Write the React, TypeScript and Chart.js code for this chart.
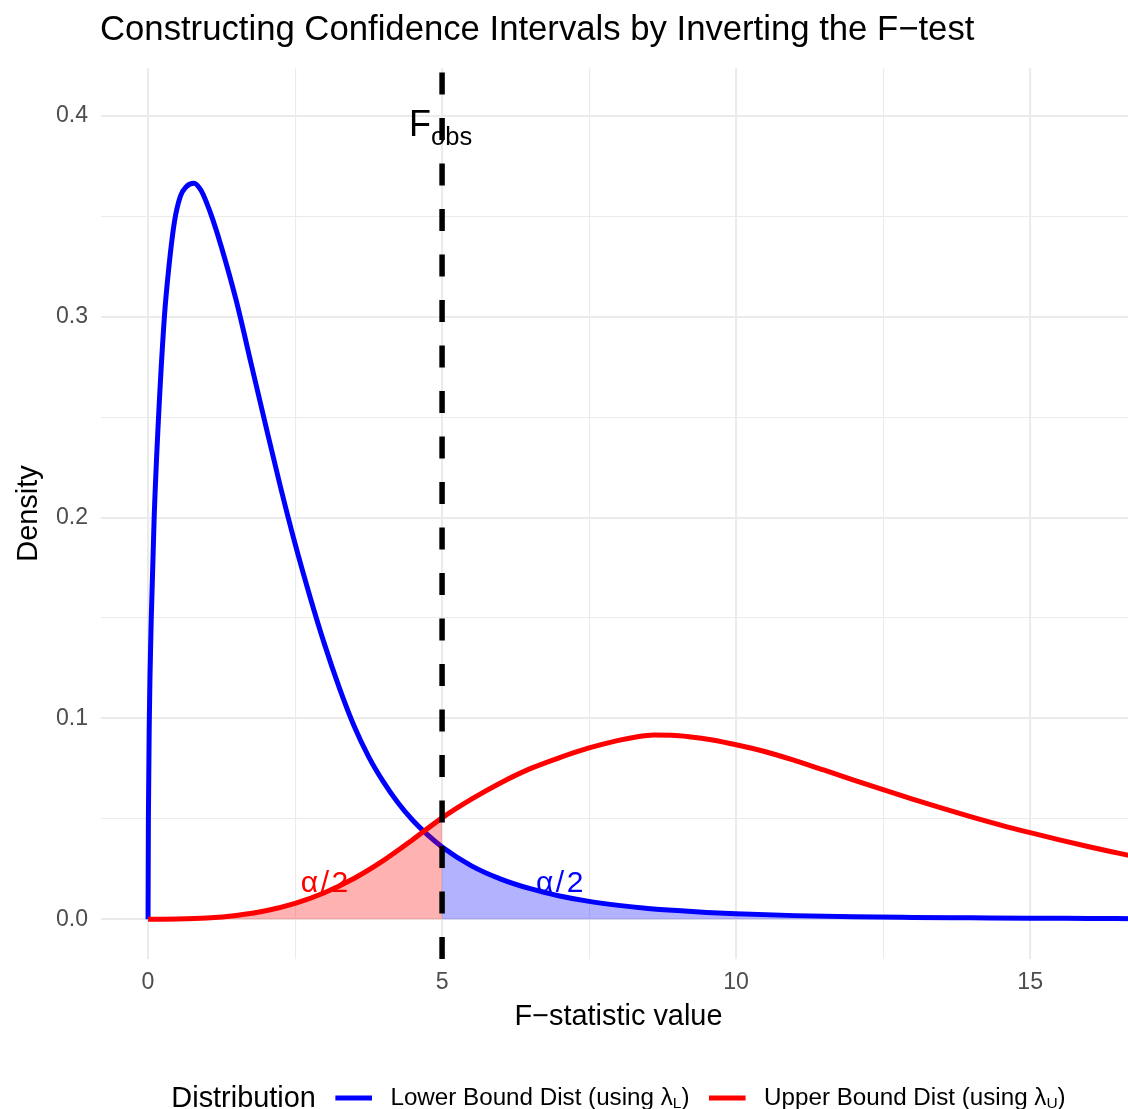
import { useEffect, useRef } from "react";
import { Chart, registerables } from "chart.js";

Chart.register(...registerables);

const FAMILY = "'Liberation Sans', Arial, Helvetica, sans-serif";

// Density of the lower-bound distribution (lambda_L)
const LOWER_X = [0, 0.006, 0.022, 0.055, 0.104, 0.17, 0.278, 0.35, 0.45, 0.55, 0.65, 0.78, 0.9, 1.0, 1.1, 1.25, 1.5, 1.75, 2.0, 2.25, 2.5, 2.75, 3.0, 3.25, 3.5, 3.75, 4.0, 4.25, 4.5, 4.75, 5.0, 5.5, 6.0, 6.5, 7.0, 7.5, 8.0, 8.5, 9.0, 9.5, 10.0, 11.0, 12.0, 13.0, 14.0, 15.0, 16.0, 16.8];
const LOWER_Y = [0, 0.05, 0.1, 0.15, 0.2, 0.245, 0.3, 0.3235, 0.3475, 0.36, 0.3648, 0.3665, 0.363, 0.3565, 0.3485, 0.3345, 0.308, 0.277, 0.246, 0.2155, 0.187, 0.161, 0.137, 0.1155, 0.0965, 0.081, 0.0685, 0.058, 0.0493, 0.0421, 0.036, 0.0266, 0.02, 0.0152, 0.0116, 0.0089, 0.0069, 0.0054, 0.0043, 0.0034, 0.0027, 0.0018, 0.0012, 0.0009, 0.0007, 0.0005, 0.0004, 0.0003];

// Density of the upper-bound distribution (lambda_U)
const UPPER_X = [0, 0.5, 1.0, 1.5, 2.0, 2.5, 3.0, 3.5, 4.0, 4.5, 5.0, 5.5, 6.0, 6.5, 7.0, 7.5, 8.0, 8.3, 8.6, 8.9, 9.2, 9.6, 10.0, 10.5, 11.0, 11.5, 12.0, 12.5, 13.0, 13.5, 14.0, 14.5, 15.0, 15.5, 16.0, 16.5, 16.8];
const UPPER_Y = [0, 0.0001, 0.0006, 0.0019, 0.0042, 0.0079, 0.0132, 0.0203, 0.0292, 0.0396, 0.0505, 0.0598, 0.068, 0.075, 0.0805, 0.0853, 0.0891, 0.0908, 0.0917, 0.0916, 0.0909, 0.0893, 0.0869, 0.0834, 0.079, 0.0742, 0.0693, 0.0645, 0.0598, 0.0553, 0.051, 0.0469, 0.0431, 0.0395, 0.0361, 0.0329, 0.031];

const F_OBS = 5;

const X_MAJOR = [0, 5, 10, 15];
const X_MINOR = [2.5, 7.5, 12.5];
const Y_MAJOR = [0, 0.1, 0.2, 0.3, 0.4];
const Y_MINOR = [0.05, 0.15, 0.25, 0.35];

const TITLE = "Constructing Confidence Intervals by Inverting the F\u2212test";
const X_TITLE = "F\u2212statistic value";
const Y_TITLE = "Density";
const LEGEND_TITLE = "Distribution";
const LEGEND_ITEMS = [
  { text: "Lower Bound Dist (using \u03bb", sub: "L", tail: ")", color: "#0000FF" },
  { text: "Upper Bound Dist (using \u03bb", sub: "U", tail: ")", color: "#FF0000" },
];
const ALPHA_LABELS = [
  { x: 3, y: 0.019, color: "#FF0000" },
  { x: 7, y: 0.019, color: "#0000FF" },
];
const F_LABEL_Y = 0.4;

const BLUE = "#0000FF";
const RED = "#FF0000";
const GRID = "#EBEBEB";

const toPoints = (xs: number[], ys: number[]) => xs.map((x, i) => ({ x, y: ys[i] }));
const near = (list: number[], v: number) => list.some((m) => Math.abs(m - v) < 1e-9);

const decorations = {
  id: "decorations",
  afterDatasetsDraw(chart: any) {
    const { ctx, chartArea, scales } = chart;
    const xs = scales.x;
    const ys = scales.y;
    const px = xs.getPixelForValue(F_OBS);
    ctx.save();

    // observed F statistic
    ctx.beginPath();
    ctx.setLineDash([22, 23.5]);
    ctx.lineWidth = 5.5;
    ctx.strokeStyle = "#000000";
    ctx.lineCap = "butt";
    ctx.moveTo(px, chartArea.bottom);
    ctx.lineTo(px, chartArea.top);
    ctx.stroke();
    ctx.setLineDash([]);

    // F_obs label
    ctx.fillStyle = "#000000";
    ctx.textBaseline = "alphabetic";
    ctx.textAlign = "left";
    ctx.font = `36px ${FAMILY}`;
    const wF = ctx.measureText("F").width;
    ctx.font = `25.5px ${FAMILY}`;
    const wS = ctx.measureText("obs").width;
    const start = px - (wF + wS) / 2 - 1.5;
    const base = ys.getPixelForValue(F_LABEL_Y) + 20;
    ctx.font = `36px ${FAMILY}`;
    ctx.fillText("F", start, base);
    ctx.font = `25.5px ${FAMILY}`;
    ctx.fillText("obs", start + wF, base + 9);

    // alpha/2 tail labels
    ctx.font = `30px ${FAMILY}`;
    for (const a of ALPHA_LABELS) {
      ctx.fillStyle = a.color;
      const cx = xs.getPixelForValue(a.x);
      const cy = ys.getPixelForValue(a.y) + 10.5;
      const parts = ["\u03b1", "/", "2"];
      const gap = 2.5;
      const widths = parts.map((p) => ctx.measureText(p).width);
      const total = widths.reduce((s, w) => s + w, 0) + gap * (parts.length - 1);
      let cur = cx - total / 2;
      parts.forEach((p, i) => {
        ctx.fillText(p, cur, cy);
        cur += widths[i] + gap;
      });
    }
    ctx.restore();
  },
  afterDraw(chart: any) {
    const { ctx, chartArea } = chart;
    ctx.save();
    ctx.textBaseline = "alphabetic";

    // title
    ctx.fillStyle = "#000000";
    ctx.textAlign = "left";
    ctx.font = `34.7px ${FAMILY}`;
    ctx.fillText(TITLE, 100, 39.5);

    // axis titles
    const cx = (chartArea.left + chartArea.right) / 2;
    ctx.textAlign = "center";
    ctx.font = `28.9px ${FAMILY}`;
    ctx.fillText(X_TITLE, cx, 1025);
    ctx.save();
    ctx.translate(37, (chartArea.top + chartArea.bottom) / 2);
    ctx.rotate(-Math.PI / 2);
    ctx.fillText(Y_TITLE, 0, 0);
    ctx.restore();

    // legend
    ctx.textAlign = "left";
    const titleFont = `28.9px ${FAMILY}`;
    const labelFont = `24.2px ${FAMILY}`;
    const subFont = `15.5px ${FAMILY}`;
    ctx.font = titleFont;
    const wt = ctx.measureText(LEGEND_TITLE).width;
    const itemWidths = LEGEND_ITEMS.map((it) => {
      ctx.font = labelFont;
      const a = ctx.measureText(it.text).width;
      const c = ctx.measureText(it.tail).width;
      ctx.font = subFont;
      const b = ctx.measureText(it.sub).width;
      return { a, b, c, w: a + b + c };
    });
    const keyLen = 36.6;
    const gapTitle = 19.5;
    const gapKey = 18.5;
    const gapItem = 19.5;
    const total =
      wt + gapTitle + itemWidths.reduce((s, iw) => s + keyLen + gapKey + iw.w, 0) + gapItem * (LEGEND_ITEMS.length - 1);
    let x = cx - total / 2;
    ctx.fillStyle = "#000000";
    ctx.font = titleFont;
    ctx.fillText(LEGEND_TITLE, x, 1107);
    x += wt + gapTitle;
    LEGEND_ITEMS.forEach((it, i) => {
      ctx.beginPath();
      ctx.strokeStyle = it.color;
      ctx.lineWidth = 4.8;
      ctx.moveTo(x, 1098);
      ctx.lineTo(x + keyLen, 1098);
      ctx.stroke();
      x += keyLen + gapKey;
      const iw = itemWidths[i];
      ctx.fillStyle = "#000000";
      ctx.font = labelFont;
      ctx.fillText(it.text, x, 1104.5);
      ctx.font = subFont;
      ctx.fillText(it.sub, x + iw.a, 1108);
      ctx.font = labelFont;
      ctx.fillText(it.tail, x + iw.a + iw.b, 1104.5);
      x += iw.w + gapItem;
    });
    ctx.restore();
  },
};

export default function App() {
  const canvasRef = useRef<HTMLCanvasElement | null>(null);

  useEffect(() => {
    const canvas = canvasRef.current;
    if (!canvas) return;
    Chart.defaults.font.family = FAMILY;

    const lower = toPoints(LOWER_X, LOWER_Y);
    const upper = toPoints(UPPER_X, UPPER_Y);
    const lowerTail = lower.filter((p) => p.x >= F_OBS);
    const upperTail = upper.filter((p) => p.x <= F_OBS);

    const chart = new Chart(canvas, {
      type: "line",
      data: {
        datasets: [
          {
            label: "Upper tail",
            data: upperTail,
            borderColor: "rgba(0,0,0,0)",
            borderWidth: 0,
            backgroundColor: "rgba(255,0,0,0.3)",
            fill: "origin",
            pointRadius: 0,
            cubicInterpolationMode: "monotone",
            order: 1,
          },
          {
            label: "Lower tail",
            data: lowerTail,
            borderColor: "rgba(0,0,0,0)",
            borderWidth: 0,
            backgroundColor: "rgba(0,0,255,0.3)",
            fill: "origin",
            pointRadius: 0,
            cubicInterpolationMode: "monotone",
            order: 2,
          },
          {
            label: "Upper Bound Dist",
            data: upper,
            borderColor: RED,
            borderWidth: 5,
            fill: false,
            pointRadius: 0,
            cubicInterpolationMode: "monotone",
            order: 3,
          },
          {
            label: "Lower Bound Dist",
            data: lower,
            borderColor: BLUE,
            borderWidth: 5,
            fill: false,
            pointRadius: 0,
            cubicInterpolationMode: "monotone",
            order: 4,
          },
        ],
      },
      options: {
        responsive: false,
        animation: false,
        devicePixelRatio: 1,
        layout: { padding: { top: 68, left: 0, right: 0, bottom: 0 } },
        plugins: {
          legend: { display: false },
          title: { display: false },
          tooltip: { enabled: false },
        },
        scales: {
          x: {
            type: "linear",
            min: -0.8,
            max: 16.8,
            border: { display: false },
            grid: {
              color: GRID,
              drawTicks: false,
              lineWidth: (c: any) => (near(X_MAJOR, c.tick?.value) ? 2.1 : 1.1),
            },
            afterBuildTicks: (scale: any) => {
              scale.ticks = [...X_MAJOR, ...X_MINOR].sort((a, b) => a - b).map((v) => ({ value: v }));
            },
            afterFit: (scale: any) => {
              scale.height = 150;
            },
            ticks: {
              autoSkip: false,
              maxRotation: 0,
              padding: 10,
              color: "#4D4D4D",
              font: { size: 23.1, family: FAMILY },
              callback: (v: any) => (near(X_MAJOR, Number(v)) ? String(v) : ""),
            },
          },
          y: {
            type: "linear",
            min: -0.0198,
            max: 0.4239,
            border: { display: false },
            grid: {
              color: GRID,
              drawTicks: false,
              lineWidth: (c: any) => (near(Y_MAJOR, c.tick?.value) ? 2.1 : 1.1),
            },
            afterBuildTicks: (scale: any) => {
              scale.ticks = [...Y_MAJOR, ...Y_MINOR].sort((a, b) => a - b).map((v) => ({ value: v }));
            },
            afterFit: (scale: any) => {
              scale.width = 101;
            },
            ticks: {
              autoSkip: false,
              padding: 13,
              color: "#4D4D4D",
              font: { size: 23.1, family: FAMILY },
              callback: (v: any) => (near(Y_MAJOR, Number(v)) ? Number(v).toFixed(1) : ""),
            },
          },
        },
      },
      plugins: [decorations],
    });

    return () => chart.destroy();
  }, []);

  return (
    <div
      style={{
        position: "absolute",
        left: 0,
        top: 0,
        width: 1128,
        height: 1109,
        overflow: "hidden",
        background: "#ffffff",
      }}
    >
      <canvas ref={canvasRef} width={1136} height={1109} style={{ display: "block" }} />
    </div>
  );
}
